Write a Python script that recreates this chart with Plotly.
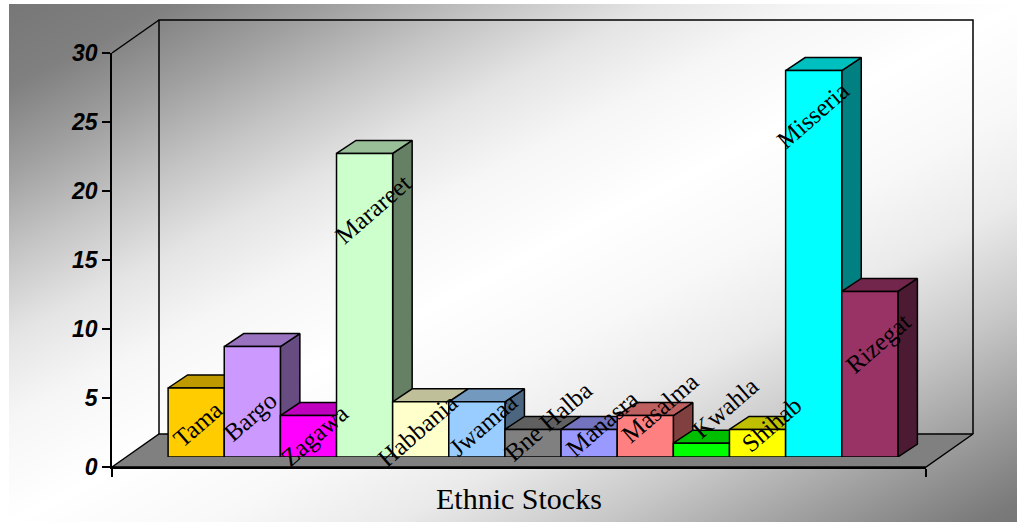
import plotly.graph_objects as go

W, H = 1017, 522

# Chart data
stocks = ["Tama", "Bargo", "Zagawa", "Marareet", "Habbania", "Jwamaa", "Bne Halba",
          "Manasra", "Masalma", "Kwahla", "Shihab", "Misseria", "Rizegat"]
counts = [5, 8, 3, 22, 4, 4, 2, 2, 3, 1, 2, 28, 12]
y_ticks = [0, 5, 10, 15, 20, 25, 30]
x_title = "Ethnic Stocks"

# Front-face colours, one per stock
face_rgb = [(255, 204, 0), (204, 153, 255), (255, 0, 255), (204, 255, 204), (255, 255, 204),
            (153, 204, 255), (128, 128, 128), (153, 153, 255), (255, 128, 128), (0, 255, 0),
            (255, 255, 0), (0, 255, 255), (153, 51, 102)]

# Pixel nudges (right, up) of each rotated label from the top centre of its bar
label_nudge = [(1, -36), (-2, -70), (6, -20), (8, -56), (-3, -29), (7, -23), (15, 8),
               (13, 6), (15, 8), (24, 36), (14, 5), (-1, -45), (8, -52)]

# Extent of the value and category scales
X_RANGE = [-1.25, 13.25]
Y_RANGE = [0, 30]

# Front edge of the floor, in page pixels
LEFT, RIGHT, TOP, BOTTOM = 112, 926, 53, 467
SX = (RIGHT - LEFT) / (X_RANGE[1] - X_RANGE[0])
SY = (BOTTOM - TOP) / (Y_RANGE[1] - Y_RANGE[0])

# Oblique projection, expressed in axis units
WALL_DX, WALL_DY = 47 / SX, 33 / SY     # floor depth
BAR_DX, BAR_DY = 19.5 / SX, 13 / SY     # column depth
SET_BACK_X, SET_BACK_Y = 14, 10         # columns stand this far behind the front edge (px)
PAD = 4                                 # room around the walls so edge strokes are not cut (px)

# Grey ramp of the backdrop along its diagonal, from corner to corner
backdrop_ramp = [[0, "#777777"], [0.08, "#808080"], [0.16, "#a0a0a0"], [0.24, "#c4c4c4"],
                 [0.32, "#e4e4e4"], [0.40, "#f6f6f6"], [0.48, "#fdfdfd"], [0.5, "#ffffff"],
                 [0.6, "#f8f8f8"], [0.69, "#eaeaea"], [0.79, "#c8c8c8"], [0.885, "#a0a0a0"],
                 [0.98, "#7a7a7a"], [1, "#777777"]]


def dom_x(a, b):
    return [a / W, b / W]


def dom_y(top, bottom):
    return [1 - bottom / H, 1 - top / H]


def shade(rgb, k):
    return "rgb({},{},{})".format(*(round(c * k) for c in rgb))


fig = go.Figure()

# Diagonal backdrop: dark corners with a white band between them
fig.add_trace(go.Heatmap(
    x=[9, W], y=[4, H], z=[[0, 1], [1, 2]],
    zmin=0, zmax=2, zsmooth="best", showscale=False, hoverinfo="skip",
    colorscale=backdrop_ramp, xaxis="x", yaxis="y",
))


def frame(xs, ys, fill=None):
    fig.add_trace(go.Scatter(
        x=xs, y=ys, mode="lines", hoverinfo="skip", showlegend=False,
        line=dict(color="black", width=1.5),
        fill="toself" if fill else None, fillcolor=fill,
        xaxis="x2", yaxis="y2",
    ))


x0, x1 = X_RANGE
y0, y1 = Y_RANGE
# Back wall
frame([x0 + WALL_DX, x0 + WALL_DX, x1 + WALL_DX, x1 + WALL_DX],
      [y0 + WALL_DY, y1 + WALL_DY, y1 + WALL_DY, y0 + WALL_DY])
# Floor
frame([x0, x1, x1 + WALL_DX, x0 + WALL_DX, x0],
      [y0, y0, y0 + WALL_DY, y0 + WALL_DY, y0], fill="#808080")
# Top edge of the side wall
frame([x0, x0 + WALL_DX], [y1, y1 + WALL_DY])


def face(xs, ys, color, name):
    fig.add_trace(go.Scatter(
        x=xs, y=ys, mode="lines", fill="toself", fillcolor=color,
        line=dict(color="black", width=1.5), name=name, showlegend=False,
        hovertemplate=name + "<extra></extra>", xaxis="x3", yaxis="y3",
    ))


# Columns are painted left to right so each one hides its neighbour's side face
for i, (name, v, rgb) in enumerate(zip(stocks, counts, face_rgb)):
    left, right = i - 0.5, i + 0.5
    face([right, right + BAR_DX, right + BAR_DX, right, right],
         [0, BAR_DY, v + BAR_DY, v, 0], shade(rgb, 0.5), name)
    face([left, right, right + BAR_DX, left + BAR_DX, left],
         [v, v, v + BAR_DY, v + BAR_DY, v], shade(rgb, 0.75), name)
    face([left, right, right, left, left], [0, 0, v, v, 0], shade(rgb, 1), name)

# Invisible anchor so the axes on the front edge get drawn
fig.add_trace(go.Scatter(x=X_RANGE, y=Y_RANGE, mode="none", hoverinfo="skip",
                         showlegend=False, xaxis="x4", yaxis="y4"))

annotations = [
    dict(x=i, y=v, xref="x3", yref="y3", text=name, showarrow=False, textangle=-41,
         xanchor="center", yanchor="middle", xshift=dx, yshift=dy,
         font=dict(family="Liberation Serif", size=25, color="black"))
    for i, (name, v, (dx, dy)) in enumerate(zip(stocks, counts, label_nudge))
]
annotations.append(dict(
    x=(x0 + x1) / 2, y=y0, xref="x4", yref="y4", text=x_title, showarrow=False,
    xanchor="center", yanchor="middle", yshift=-31,
    font=dict(family="Liberation Serif", size=30, color="black"),
))

hidden = dict(visible=False, fixedrange=True, automargin=False)
fig.update_layout(
    template="none",
    width=W, height=H, margin=dict(l=0, r=0, t=0, b=0), showlegend=False,
    paper_bgcolor="white", plot_bgcolor="rgba(0,0,0,0)",
    annotations=annotations,
    # Backdrop
    xaxis=dict(hidden, domain=dom_x(9, W), range=[9, W]),
    yaxis=dict(hidden, domain=dom_y(4, H), range=[H, 4]),
    # Walls and floor
    xaxis2=dict(hidden, anchor="y2", domain=dom_x(LEFT - PAD, RIGHT + 47 + PAD),
                range=[x0 - PAD / SX, x1 + WALL_DX + PAD / SX]),
    yaxis2=dict(hidden, anchor="x2", domain=dom_y(TOP - 33 - PAD, BOTTOM + PAD),
                range=[y0 - PAD / SY, y1 + WALL_DY + PAD / SY]),
    # Plane the columns stand on, set back from the front edge
    xaxis3=dict(hidden, anchor="y3", range=X_RANGE,
                domain=dom_x(LEFT + SET_BACK_X, RIGHT + SET_BACK_X)),
    yaxis3=dict(hidden, anchor="x3", range=Y_RANGE,
                domain=dom_y(TOP - SET_BACK_Y, BOTTOM - SET_BACK_Y)),
    # Visible axes along the front edge of the floor
    xaxis4=dict(
        domain=dom_x(LEFT, RIGHT), range=X_RANGE, anchor="y4", fixedrange=True, automargin=False,
        showgrid=False, zeroline=False, showline=True, linecolor="black", linewidth=1.5,
        tickmode="array", tickvals=X_RANGE, ticktext=["", ""], ticks="outside",
        ticklen=8, tickwidth=1.5, tickcolor="black",
    ),
    yaxis4=dict(
        domain=dom_y(TOP, BOTTOM), range=Y_RANGE, anchor="x4", fixedrange=True, automargin=False,
        showgrid=False, zeroline=False, showline=True, linecolor="black", linewidth=1.5,
        tickmode="array", tickvals=y_ticks, ticks="outside",
        ticklen=8, tickwidth=1.5, tickcolor="black", ticklabelstandoff=0,
        tickfont=dict(family="Liberation Sans", size=23, color="black",
                      weight="bold", style="italic"),
    ),
)

fig.write_html("out.html", config={"displayModeBar": False})
